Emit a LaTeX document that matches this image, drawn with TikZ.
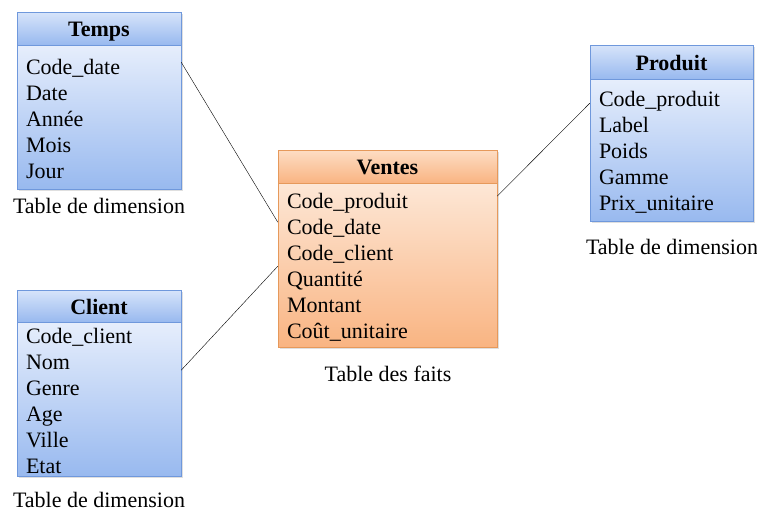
\documentclass[tikz,border=0pt]{standalone}
\usepackage{fontspec}
\setmainfont{Liberation Serif}
\usetikzlibrary{positioning}
\usetikzlibrary{shadows}

\definecolor{bleuhaut}{HTML}{D7E4FA}
\definecolor{bleubas}{HTML}{98B9EF}
\definecolor{bleuclair}{HTML}{E6EEFC}
\definecolor{bleubord}{HTML}{6F98DC}
\definecolor{orhaut}{HTML}{FDDDC4}
\definecolor{orbas}{HTML}{F9B482}
\definecolor{orclair}{HTML}{FDE7D6}
\definecolor{orbord}{HTML}{E6995B}

\tikzset{
    tabtitre/.style={draw=bleubord, top color=bleuhaut, bottom color=bleubas,
        font=\fontsize{22}{26}\selectfont\bfseries, inner sep=0pt,
        text height=18pt, text depth=2pt,
        drop shadow={opacity=0.25, shadow xshift=1.5pt, shadow yshift=-1.5pt}},
    tabcorps/.style={draw=bleubord, top color=bleuclair, bottom color=bleubas,
        font=\fontsize{22}{26}\selectfont, align=left, inner xsep=9pt, inner ysep=0pt,
        execute at begin node=\rule{0pt}{18.5pt},
        drop shadow={opacity=0.25, shadow xshift=1.5pt, shadow yshift=-1.5pt}},
    faittitre/.style={tabtitre, draw=orbord, top color=orhaut, bottom color=orbas},
    faitcorps/.style={tabcorps, draw=orbord, top color=orclair, bottom color=orbas},
    legende/.style={font=\fontsize{22}{26}\selectfont}
}

\begin{document}
\begin{tikzpicture}[x=1pt,y=-1pt]
                \useasboundingbox (0,0) rectangle (757,512);

                \node[tabtitre, minimum width=164pt, minimum height=33pt] (temps) at (99,28.5) {Temps};
                \node[tabcorps, minimum height=144pt, text width=146pt, below=0pt of temps] (tempscorps)
                    {Code\_date\\Date\\Année\\Mois\\Jour};
                \node[legende] (tempsleg) at (99,206) {Table de dimension};

                \node[tabtitre, minimum width=164pt, minimum height=32pt] (client) at (99,306) {Client};
                \node[tabcorps, minimum height=154pt, text width=146pt, below=0pt of client] (clientcorps)
                    {Code\_client\\Nom\\Genre\\Age\\Ville\\Etat};
                \node[legende] (clientleg) at (99,500) {Table de dimension};

                \node[faittitre, minimum width=219pt, minimum height=33pt] (ventes) at (387.5,166.5) {Ventes};
                \node[faitcorps, minimum height=164pt, text width=201pt, below=0pt of ventes] (ventescorps)
                    {Code\_produit\\Code\_date\\Code\_client\\Quantité\\Montant\\Coût\_unitaire};
                \node[legende] (ventesleg) at (388,374) {Table des faits};

                \node[tabtitre, minimum width=163pt, minimum height=34pt] (produit) at (671.5,62) {Produit};
                \node[tabcorps, minimum height=142pt, text width=145pt, below=0pt of produit] (produitcorps)
                    {Code\_produit\\Label\\Poids\\Gamme\\Prix\_unitaire};
                \node[legende] (produitleg) at (672,247) {Table de dimension};

                \draw ([yshift=-17pt]tempscorps.north east) -- ([yshift=-39pt]ventescorps.north west);
                \draw ([yshift=-48pt]clientcorps.north east) -- ([yshift=-83pt]ventescorps.north west);
                \draw ([yshift=-24pt]produitcorps.north west) -- ([yshift=-13pt]ventescorps.north east);
            \end{tikzpicture}
\end{document}
